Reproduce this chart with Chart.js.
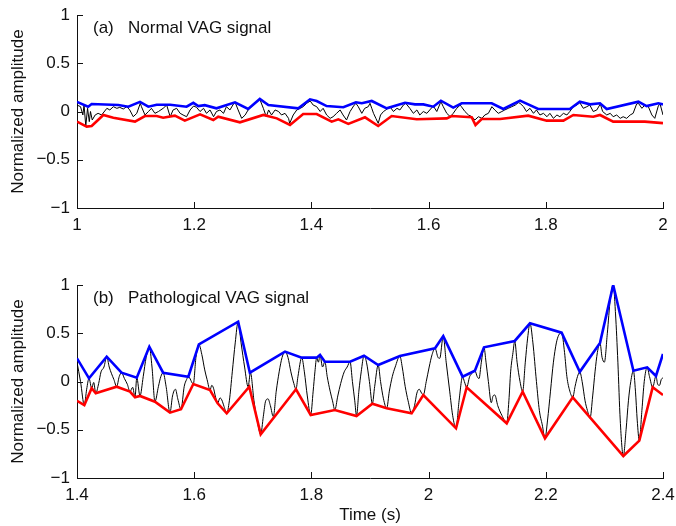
<!DOCTYPE html>
<html><head><meta charset="utf-8">
<script src="https://cdn.jsdelivr.net/npm/chart.js@4.4.1/dist/chart.umd.min.js"></script>
<style>
html,body{margin:0;padding:0;background:#fff;}
#wrap{position:relative;width:676px;height:526px;overflow:hidden;}
canvas{position:absolute;left:0;}
#c1{top:0;} #c2{top:270px;}
</style></head><body>
<div id="wrap"><canvas id="c1" width="676" height="256"></canvas><canvas id="c2" width="676" height="256"></canvas></div>
<script>
// ---------- tick labels ----------
const normalXTicks = [1, 1.2, 1.4, 1.6, 1.8, 2];
const pathoXTicks = [1.4, 1.6, 1.8, 2, 2.2, 2.4];
const yTicks = [-1, -0.5, 0, 0.5, 1];

// ---------- (a) normal VAG signal ----------
const normalSignalT = [1.000,1.006,1.010,1.012,1.015,1.018,1.021,1.023,1.026,1.031,1.036,1.042,1.051,1.056,1.062,1.068,1.073,1.079,1.085,1.090,1.096,1.102,1.108,1.110,1.116,1.122,1.127,1.133,1.139,1.147,1.153,1.159,1.164,1.170,1.176,1.181,1.187,1.193,1.199,1.204,1.210,1.216,1.221,1.227,1.233,1.238,1.244,1.250,1.255,1.261,1.267,1.270,1.275,1.281,1.287,1.292,1.298,1.304,1.309,1.312,1.318,1.323,1.327,1.332,1.338,1.344,1.349,1.355,1.361,1.363,1.369,1.375,1.381,1.386,1.392,1.398,1.403,1.409,1.415,1.420,1.426,1.432,1.437,1.443,1.449,1.454,1.460,1.466,1.472,1.476,1.480,1.486,1.491,1.497,
1.500,1.503,1.506,1.510,1.514,1.518,1.523,1.527,1.534,1.540,1.546,1.551,1.557,1.561,1.568,1.574,1.580,1.585,1.591,1.597,1.602,1.608,1.614,1.621,1.625,1.631,1.637,1.642,1.648,1.654,1.656,1.662,1.668,1.674,1.679,1.685,1.691,1.696,1.702,1.708,1.713,1.719,1.725,1.730,1.736,1.742,1.748,1.753,1.756,1.762,1.767,1.773,1.779,1.784,1.790,1.796,1.802,1.807,1.813,1.819,1.824,1.830,1.836,1.841,1.847,1.853,1.858,1.864,1.870,1.875,1.881,1.887,1.893,1.897,1.904,1.910,1.915,1.921,1.927,1.932,1.938,1.944,1.949,1.955,1.958,1.964,1.969,1.975,1.981,1.986,1.992,1.995,2.000];
const normalSignalV = [0.067,0.050,-0.036,0.067,-0.150,0.033,-0.105,0.0,-0.088,-0.036,-0.019,-0.036,0.033,0.016,0.050,0.033,0.043,0.026,0.050,0.016,-0.054,-0.019,0.085,0.050,-0.036,0.0,0.033,-0.019,0.0,0.033,0.067,-0.054,0.016,0.033,-0.019,-0.036,-0.054,0.016,0.057,0.043,0.0,0.033,-0.019,0.016,-0.054,0.0,0.016,-0.019,0.050,0.016,0.078,0.092,0.016,-0.071,-0.036,0.016,0.050,0.085,0.119,0.126,0.033,-0.054,0.016,-0.036,0.016,0.0,-0.036,-0.019,-0.071,-0.123,-0.036,0.016,0.033,0.050,0.085,0.109,0.067,0.050,0.0,0.033,-0.036,-0.071,-0.054,-0.019,0.016,-0.036,-0.088,0.0,0.057,0.085,0.050,-0.019,0.033,0.050,
0.085,0.033,-0.019,-0.071,-0.123,-0.036,0.0,0.016,0.050,0.0,0.033,0.016,0.067,0.085,0.033,-0.019,0.016,-0.036,0.0,-0.019,0.016,0.057,0.0,0.102,0.050,-0.019,-0.054,-0.019,0.033,0.067,0.050,0.0,-0.036,-0.054,-0.088,-0.054,-0.071,-0.036,-0.019,0.050,0.016,-0.019,0.0,0.016,0.033,0.050,0.067,0.092,0.085,0.050,0.0,0.033,-0.019,0.016,-0.036,-0.019,-0.054,-0.019,-0.071,-0.036,-0.054,-0.019,-0.036,0.0,0.050,0.067,0.092,0.033,0.050,0.067,0.0,0.016,0.078,0.0,-0.036,-0.019,-0.054,-0.036,-0.071,-0.054,-0.071,-0.036,-0.019,0.078,0.085,0.033,0.067,0.050,-0.036,-0.071,0.057,0.078,-0.036];
const normalUpperT = [1.000,1.019,1.025,1.0705,1.0876,1.1075,1.1217,1.136,1.159,1.187,1.1985,1.207,1.218,1.238,1.2696,1.292,1.312,1.3265,1.3777,1.3976,1.409,1.426,1.4545,1.476,1.486,1.503,1.5285,1.5597,1.5768,1.591,1.608,1.621,1.642,1.6565,1.7077,1.7275,1.756,1.787,1.841,1.858,1.8754,1.8925,1.904,1.958,1.972,1.992,2.000];
const normalUpperV = [0.10,0.05,0.078,0.067,0.05,0.10,0.05,0.07,0.07,0.05,0.09,0.056,0.066,0.033,0.095,0.026,0.13,0.067,0.033,0.126,0.109,0.056,0.044,0.095,0.085,0.109,0.033,0.091,0.074,0.074,0.05,0.112,0.04,0.085,0.085,0.026,0.112,0.026,0.026,0.102,0.074,0.085,0.026,0.102,0.056,0.085,0.074];
const normalLowerT = [1.000,1.0165,1.025,1.045,1.062,1.099,1.116,1.136,1.147,1.167,1.184,1.21,1.2326,1.241,1.278,1.318,1.341,1.3635,1.386,1.409,1.4346,1.446,1.463,1.4915,1.514,1.537,1.5797,1.631,1.6394,1.6735,1.680,1.6906,1.722,1.77,1.8015,1.83,1.847,1.881,1.8925,1.915,1.969,2.000];
const normalLowerV = [-0.105,-0.157,-0.15,-0.036,-0.064,-0.105,-0.047,-0.047,-0.064,-0.043,-0.095,-0.03,-0.088,-0.054,-0.112,-0.036,-0.071,-0.14,-0.026,-0.026,-0.105,-0.081,-0.129,-0.06,-0.15,-0.047,-0.081,-0.071,-0.047,-0.06,-0.14,-0.078,-0.078,-0.043,-0.095,-0.095,-0.036,-0.054,-0.036,-0.105,-0.105,-0.12];

// ---------- (b) pathological VAG signal ----------
const pathoSignalT = [1.400,1.406,1.4125,1.4165,1.4205,1.425,1.4285,1.432,1.437,1.441,1.446,1.4507,1.455,1.459,1.463,1.4677,1.472,1.476,1.481,1.486,1.4904,1.495,1.499,1.502,1.5075,1.513,1.518,1.5234,1.528,1.533,1.539,1.543,1.547,1.552,1.5587,1.563,1.568,1.572,1.5775,1.583,1.587,1.590,1.5985,1.603,1.608,1.613,1.618,1.622,1.627,1.630,1.633,1.636,1.640,1.644,1.647,1.651,1.6555,1.660,1.665,1.670,1.675,1.680,1.686,1.692,1.696,1.702,1.708,1.7135,1.718,1.722,1.726,1.730,1.735,1.740,1.745,1.750,1.755,1.760,1.765,1.770,1.7737,1.777,1.7835,1.788,1.793,1.7988,1.803,1.806,1.809,1.812,1.8147,1.819,1.823,1.827,1.832,1.836,1.840,1.845,1.850,1.856,1.861,1.866,1.870,1.874,1.877,1.881,1.885,1.8898,1.894,1.899,1.904,1.908,1.914,1.918,1.923,1.9285,1.933,1.938,1.943,1.951,1.955,1.960,1.965,1.971,1.976,1.980,1.984,1.988,1.991,1.996,2.001,2.006,2.011,2.016,2.019,2.025,2.030,2.036,2.041,2.0468,2.052,2.058,2.061,2.065,2.070,2.075,2.079,2.083,2.086,2.090,2.0945,2.098,2.102,2.107,2.110,2.113,2.118,2.125,2.1333,2.137,2.140,2.144,2.147,2.151,2.156,2.1605,2.165,2.169,2.173,2.178,2.184,2.189,2.194,2.1986,2.203,2.208,2.213,2.218,2.222,2.227,2.232,2.236,2.241,2.246,2.250,2.254,2.258,2.262,2.267,2.271,2.2755,2.280,2.284,2.288,2.2925,2.296,2.300,2.305,2.310,2.315,2.319,2.323,2.327,2.3323,2.337,2.341,2.345,2.3495,2.353,2.356,2.3596,2.364,2.368,2.373,2.377,2.3824,2.388,2.391,2.394,2.397,2.400];
const pathoSignalV = [0.20,0.0,-0.244,-0.08,0.033,-0.07,-0.01,-0.122,-0.02,0.10,0.15,0.257,0.15,0.08,0.02,-0.054,0.05,0.091,0.03,-0.03,-0.105,-0.06,-0.164,0.04,-0.15,0.05,0.25,0.36,0.15,-0.209,-0.05,0.05,0.091,-0.05,-0.323,-0.15,-0.08,-0.18,-0.288,-0.05,0.02,0.05,-0.026,0.25,0.385,0.28,0.12,0.02,-0.088,-0.04,-0.07,-0.15,-0.226,-0.17,-0.19,-0.26,-0.33,-0.2,0.1,0.4,0.62,0.4,0.15,-0.054,0.091,-0.2,-0.42,-0.547,-0.36,-0.2,-0.18,-0.25,-0.365,-0.1,0.1,0.25,0.31,0.25,0.1,-0.02,-0.081,0.05,0.247,0.1,-0.15,-0.347,-0.1,0.1,0.247,0.2,0.275,0.15,0.205,0.05,-0.1,-0.2,-0.295,-0.15,-0.02,0.1,0.15,0.205,0.0,-0.2,-0.357,-0.1,0.1,0.267,0.2,0.0,-0.23,-0.05,0.171,0.0,-0.18,-0.278,-0.1,0.05,0.15,0.264,0.15,-0.05,-0.2,-0.33,-0.25,-0.12,-0.08,-0.12,-0.14,0.0,0.15,0.28,0.344,0.25,0.24,0.47,0.2,-0.1,-0.35,-0.485,-0.2,0.05,0.0,-0.06,0.05,0.09,0.112,0.05,0.03,0.2,0.354,0.2,0.0,-0.22,-0.15,-0.14,-0.25,-0.35,-0.433,-0.2,0.1,0.3,0.42,0.2,0.0,-0.105,0.2,0.45,0.603,0.4,0.0,-0.3,-0.45,-0.589,-0.4,-0.1,0.2,0.4,0.48,0.506,0.3,0.05,-0.1,-0.164,-0.05,0.05,0.10,0.0,-0.2,-0.3,-0.38,-0.15,0.1,0.3,0.40,0.25,0.2,0.5,0.85,1.0,0.7,0.2,-0.4,-0.772,-0.5,-0.2,0.0,0.112,-0.1,-0.4,-0.613,-0.3,0.0,0.147,0.05,-0.06,0.057,-0.03,-0.04,0.02,0.04];
const pathoUpperT = [1.400,1.4205,1.4507,1.476,1.502,1.5234,1.547,1.59,1.608,1.675,1.695,1.755,1.7835,1.809,1.8147,1.823,1.866,1.8898,1.914,1.951,2.011,2.025,2.058,2.079,2.0945,2.147,2.173,2.227,2.258,2.2925,2.315,2.3495,2.373,2.388,2.400];
const pathoUpperV = [0.24,0.033,0.257,0.091,0.04,0.36,0.091,0.05,0.385,0.62,0.091,0.31,0.247,0.247,0.275,0.205,0.205,0.267,0.171,0.264,0.344,0.47,0.05,0.112,0.354,0.42,0.603,0.506,0.10,0.40,1.0,0.112,0.147,0.057,0.285];
const pathoLowerT = [1.400,1.4125,1.425,1.432,1.4677,1.4904,1.499,1.5075,1.533,1.5587,1.5775,1.5985,1.627,1.640,1.6555,1.694,1.7135,1.7737,1.7988,1.840,1.877,1.904,1.9285,1.971,1.991,2.0468,2.065,2.1333,2.1605,2.1986,2.246,2.3323,2.3596,2.3824,2.400];
const pathoLowerV = [-0.20,-0.244,-0.07,-0.122,-0.054,-0.105,-0.164,-0.15,-0.209,-0.323,-0.288,-0.026,-0.088,-0.226,-0.33,-0.054,-0.547,-0.081,-0.347,-0.295,-0.357,-0.23,-0.278,-0.33,-0.14,-0.485,-0.06,-0.433,-0.105,-0.589,-0.164,-0.772,-0.613,-0.06,-0.14];

// ---------- helpers ----------
const FONT = '"Liberation Sans", Arial, Helvetica, sans-serif';
const INK = '#111';
const pts = (T, V) => T.map((t, i) => ({x: t, y: V[i]}));
const fmtY = v => v === 0 ? '0' : (v < 0 ? '\u2212' : '') + Math.abs(v);

const inwardTicks = {
  id: 'inwardTicks',
  afterDraw(chart) {
    const {ctx, chartArea: a, scales: {x, y}} = chart;
    ctx.save();
    ctx.strokeStyle = INK; ctx.lineWidth = 1;
    x.ticks.forEach(t => {
      const px = Math.round(x.getPixelForValue(t.value)) + 0.5;
      ctx.beginPath(); ctx.moveTo(px, a.bottom); ctx.lineTo(px, a.bottom - 6); ctx.stroke();
    });
    y.ticks.forEach(t => {
      const py = Math.round(y.getPixelForValue(t.value)) + 0.5;
      ctx.beginPath(); ctx.moveTo(a.left, py); ctx.lineTo(a.left + 6, py); ctx.stroke();
    });
    ctx.restore();
  }
};
const panelLabel = {
  id: 'panelLabel',
  afterDraw(chart, args, opts) {
    const {ctx, chartArea: a} = chart;
    ctx.save();
    ctx.fillStyle = INK;
    ctx.font = '17px ' + FONT;
    ctx.textBaseline = 'alphabetic';
    ctx.fillText(opts.tag, a.left + 16, a.top + 18);
    ctx.fillText(opts.text, a.left + 51, a.top + 18);
    ctx.restore();
  }
};

function makeChart(id, cfg) {
  return new Chart(document.getElementById(id), {
    type: 'line',
    data: {
      datasets: [
        {data: pts(cfg.upperT, cfg.upperV), borderColor: '#0000ff', borderWidth: 2.6, pointRadius: 0, tension: 0, order: 1},
        {data: pts(cfg.lowerT, cfg.lowerV), borderColor: '#ff0000', borderWidth: 2.6, pointRadius: 0, tension: 0, order: 1},
        {data: pts(cfg.sigT, cfg.sigV), borderColor: '#000000', borderWidth: 1, pointRadius: 0,
         cubicInterpolationMode: cfg.smooth ? 'monotone' : 'default', tension: 0, order: 2}
      ]
    },
    options: {
      responsive: false, animation: false, devicePixelRatio: 1,
      layout: {padding: {top: 15, right: 13, left: 0, bottom: 0}},
      plugins: {legend: {display: false}, tooltip: {enabled: false},
                panelLabel: {tag: cfg.tag, text: cfg.text}},
      scales: {
        x: {
          type: 'linear', min: cfg.xTicks[0], max: cfg.xTicks[cfg.xTicks.length - 1],
          afterBuildTicks: s => { s.ticks = cfg.xTicks.map(v => ({value: v})); },
          afterFit: s => { s.height = 48; s.paddingLeft = 0; s.paddingRight = 0; },
          ticks: {callback: v => String(v), color: INK, font: {family: FONT, size: 17}, padding: 7, maxRotation: 0, autoSkip: false},
          grid: {display: false, drawTicks: false},
          border: {display: true, color: INK, width: 1},
          title: {display: !!cfg.xTitle, text: cfg.xTitle || '', color: INK, font: {family: FONT, size: 17}, padding: {top: 0, bottom: 0}}
        },
        y: {
          type: 'linear', min: -1, max: 1,
          afterBuildTicks: s => { s.ticks = yTicks.map(v => ({value: v})); },
          afterFit: s => { s.width = 77; s.paddingTop = 0; s.paddingBottom = 0; },
          ticks: {callback: v => fmtY(v), color: INK, font: {family: FONT, size: 17}, padding: 7, autoSkip: false},
          grid: {display: false, drawTicks: false},
          border: {display: true, color: INK, width: 1},
          title: {display: true, text: 'Normalized amplitude', color: INK, font: {family: FONT, size: 17}, padding: {top: 8, bottom: 0}}
        }
      }
    },
    plugins: [inwardTicks, panelLabel]
  });
}

makeChart('c1', {upperT: normalUpperT, upperV: normalUpperV, lowerT: normalLowerT, lowerV: normalLowerV,
  sigT: normalSignalT, sigV: normalSignalV, smooth: false, xTicks: normalXTicks,
  tag: '(a)', text: 'Normal VAG signal', xTitle: ''});
makeChart('c2', {upperT: pathoUpperT, upperV: pathoUpperV, lowerT: pathoLowerT, lowerV: pathoLowerV,
  sigT: pathoSignalT, sigV: pathoSignalV, smooth: true, xTicks: pathoXTicks,
  tag: '(b)', text: 'Pathological VAG signal', xTitle: 'Time (s)'});
</script>
</body></html>
